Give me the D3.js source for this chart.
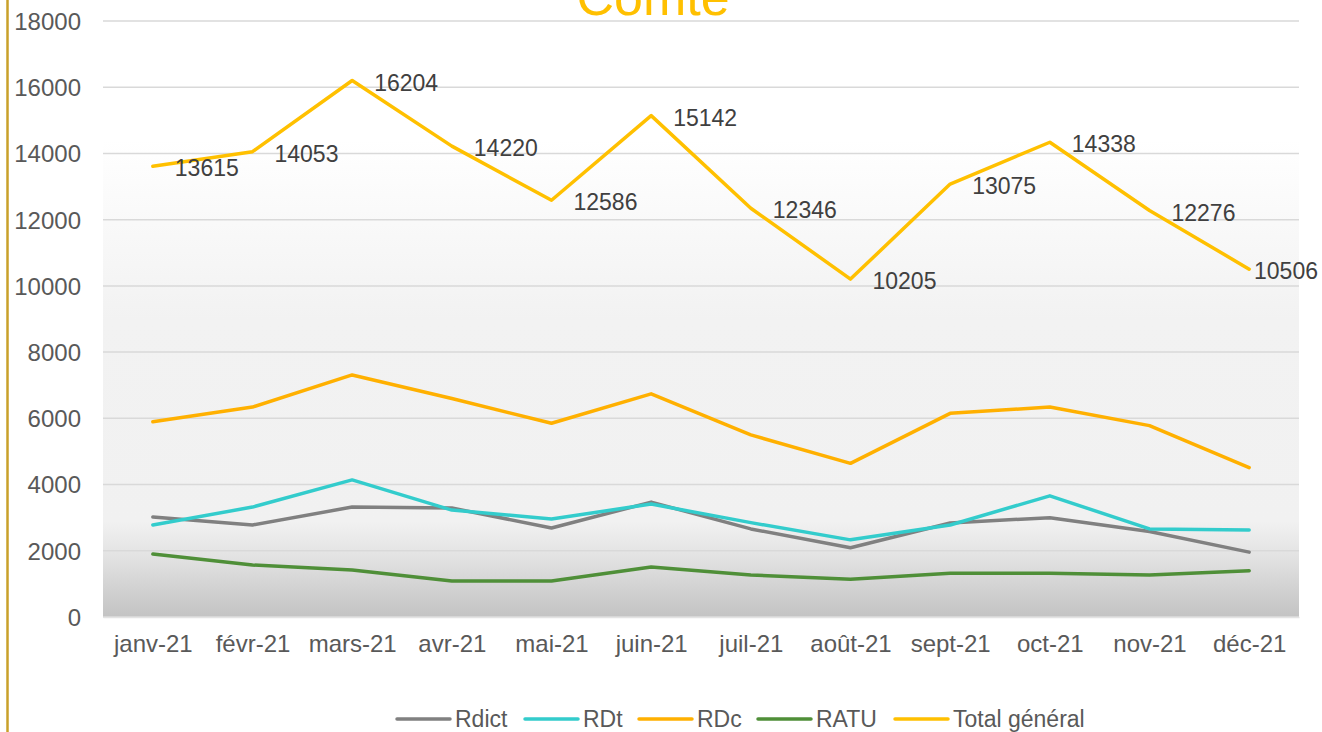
<!DOCTYPE html>
<html>
<head>
<meta charset="utf-8">
<script src="https://cdn.jsdelivr.net/npm/d3@7"></script>
<style>
  body { margin: 0; background: #fff; }
  svg text { font-family: 'Liberation Sans', Arial, sans-serif; }
</style>
</head>
<body>
<div id="chart"></div>
<script>
// Data
const months = ['janv-21', 'févr-21', 'mars-21', 'avr-21', 'mai-21', 'juin-21', 'juil-21', 'août-21', 'sept-21', 'oct-21', 'nov-21', 'déc-21'];
const rdict = [3020, 2780, 3320, 3290, 2690, 3470, 2660, 2090, 2840, 3000, 2580, 1960];
const rdt = [2780, 3320, 4140, 3230, 2960, 3410, 2850, 2330, 2780, 3660, 2660, 2630];
const rdc = [5900, 6340, 7310, 6600, 5850, 6740, 5500, 4640, 6150, 6340, 5780, 4510];
const ratu = [1900, 1570, 1420, 1090, 1090, 1510, 1270, 1140, 1320, 1320, 1270, 1400];
const total = [13615, 14053, 16204, 14220, 12586, 15142, 12346, 10205, 13075, 14338, 12276, 10506];
const yTicks = [0, 2000, 4000, 6000, 8000, 10000, 12000, 14000, 16000, 18000];

const series = [
  { name: 'Rdict', values: rdict, color: '#808080' },
  { name: 'RDt', values: rdt, color: '#33cccc' },
  { name: 'RDc', values: rdc, color: '#ffb000' },
  { name: 'RATU', values: ratu, color: '#4f8f38' },
  { name: 'Total général', values: total, color: '#ffc000' },
];

const W = 1322;
const H = 732;
const plot = { l: 103, r: 1299, t: 21, b: 617 };

const svg = d3.select('#chart')
  .append('svg')
  .attr('width', W)
  .attr('height', H);

// background gradient of the plot area
const grad = svg.append('defs').append('linearGradient')
  .attr('id', 'bg')
  .attr('x1', 0).attr('y1', 0).attr('x2', 0).attr('y2', 1);
[[0, '#ffffff'], [0.2, '#ffffff'], [0.5, '#f2f2f2'], [0.84, '#f1f1f1'], [0.9, '#e2e2e2'], [1, '#c3c3c3']]
  .forEach(([o, c]) => grad.append('stop').attr('offset', o).attr('stop-color', c));

// left gold border
svg.append('line')
  .attr('x1', 7.5).attr('x2', 7.5).attr('y1', 0).attr('y2', H)
  .attr('stroke', '#c9a02a')
  .attr('stroke-width', 2.5);

const x = d3.scalePoint(months, [plot.l, plot.r]).padding(0.5);
const y = d3.scaleLinear([0, 18000], [plot.b, plot.t]);

svg.append('rect')
  .attr('x', plot.l).attr('y', plot.t)
  .attr('width', plot.r - plot.l).attr('height', plot.b - plot.t)
  .attr('fill', 'url(#bg)');

// gridlines
svg.append('g')
  .selectAll('line')
  .data(yTicks)
  .join('line')
  .attr('x1', plot.l).attr('x2', plot.r)
  .attr('y1', (d) => y(d)).attr('y2', (d) => y(d))
  .attr('stroke', '#d9d9d9')
  .attr('stroke-width', 1.5);

// y axis
const yAxis = svg.append('g')
  .attr('transform', `translate(${plot.l - 4},0)`)
  .call(d3.axisLeft(y).tickValues(yTicks).tickSize(0).tickPadding(18).tickFormat(d3.format('d')));
yAxis.select('.domain').remove();
yAxis.selectAll('text').attr('fill', '#595959').style('font-size', '24px').attr('dy', '0.35em');

// x axis
const xAxis = svg.append('g')
  .attr('transform', `translate(0,${plot.b})`)
  .call(d3.axisBottom(x).tickSize(0).tickPadding(18));
xAxis.select('.domain').attr('stroke', '#e3e3e3').attr('stroke-width', 1.5);
xAxis.selectAll('text').attr('fill', '#595959').style('font-size', '24px');

// lines
const line = d3.line()
  .x((d, i) => x(months[i]))
  .y((d) => y(d));

svg.append('g')
  .selectAll('path')
  .data(series)
  .join('path')
  .attr('d', (d) => line(d.values))
  .attr('fill', 'none')
  .attr('stroke', (d) => d.color)
  .attr('stroke-width', 3.5)
  .attr('stroke-linejoin', 'round')
  .attr('stroke-linecap', 'round');

// total labels, kept inside the frame
svg.append('g')
  .selectAll('text')
  .data(total)
  .join('text')
  .attr('x', (d, i) => x(months[i]) + 22)
  .attr('y', (d) => y(d) + 2)
  .attr('dy', '0.35em')
  .attr('fill', '#404040')
  .style('font-size', '23px')
  .text((d) => d)
  .each(function () {
    const b = this.getBBox();
    if (b.x + b.width > W - 4) d3.select(this).attr('x', W - 4 - b.width);
  });

// title (cut at top)
svg.append('text')
  .attr('x', 653)
  .attr('y', 15)
  .attr('text-anchor', 'middle')
  .attr('fill', '#ffc000')
  .style('font-size', '52px')
  .text('Comté');

// legend
const legendX = [397, 525, 639, 758, 895];
const legend = svg.append('g')
  .selectAll('g')
  .data(series)
  .join('g')
  .attr('transform', (d, i) => `translate(${legendX[i]},719)`);
legend.append('line')
  .attr('x1', 0).attr('x2', 53)
  .attr('stroke', (d) => d.color)
  .attr('stroke-width', 3.5)
  .attr('stroke-linecap', 'round');
legend.append('text')
  .attr('x', 58)
  .attr('dy', '0.35em')
  .attr('fill', '#595959')
  .style('font-size', '23px')
  .text((d) => d.name);
</script>
</body>
</html>
